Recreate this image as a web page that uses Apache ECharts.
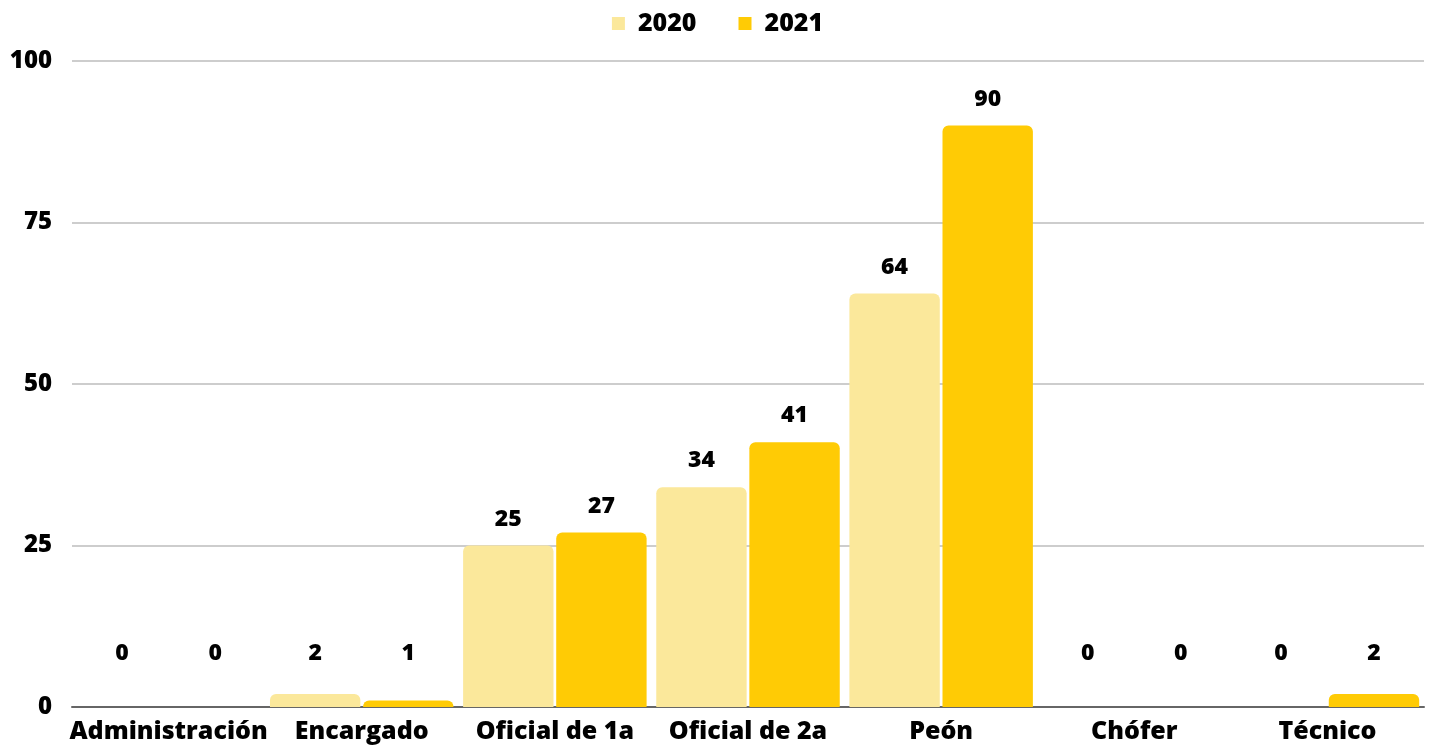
<!DOCTYPE html>
<html>
<head>
<meta charset="utf-8">
<script src="https://cdn.jsdelivr.net/npm/echarts@6/dist/echarts.min.js"></script>
<style>
  html, body { margin: 0; padding: 0; background: #fff; }
  #chart { width: 1435px; height: 752px; }
</style>
</head>
<body>
<div id="chart"></div>
<script>
const categories = ["Administración", "Encargado", "Oficial de 1a", "Oficial de 2a", "Peón", "Chófer", "Técnico"];
const seriesNames = ["2020", "2021"];
const values2020 = [0, 2, 25, 34, 64, 0, 0];
const values2021 = [0, 1, 27, 41, 90, 0, 2];
const yTicks = [0, 25, 50, 75, 100];

const FONT = "'Open Sans', 'Noto Sans', sans-serif";
const colors = ["#FBE89B", "#FFCB05"];

// labels of tiny bars sit at a minimum height, like in the original
const pxPerUnit = (707 - 61) / 100;
function items(vals) {
  return vals.map((v) => ({
    value: v,
    label: { offset: [0, -Math.max(0, 4.2 - v) * pxPerUnit] },
  }));
}

const labelStyle = {
  show: true,
  position: "top",
  distance: 15,
  fontFamily: FONT,
  fontWeight: 800,
  fontSize: 23,
  color: "#000",
};

const chart = echarts.init(document.getElementById("chart"));
chart.setOption({
  animation: false,
  textStyle: { fontFamily: FONT },
  legend: {
    top: 6,
    left: "center",
    itemWidth: 13,
    itemHeight: 13,
    itemGap: 42,
    icon: "rect",
    textStyle: {
      fontFamily: FONT,
      fontWeight: 800,
      fontSize: 25,
      color: "#000",
      padding: [0, 0, 0, 8],
    },
    data: seriesNames,
  },
  grid: { left: 72, right: 11, top: 61, bottom: 45, containLabel: false },
  xAxis: {
    type: "category",
    data: categories,
    axisTick: { show: false },
    axisLine: { lineStyle: { color: "#666", width: 2 } },
    axisLabel: {
      fontFamily: FONT,
      fontWeight: 800,
      fontSize: 25,
      color: "#000",
      margin: 12,
      interval: 0,
    },
  },
  yAxis: {
    type: "value",
    min: yTicks[0],
    max: yTicks[yTicks.length - 1],
    interval: 25,
    axisLine: { show: false },
    axisTick: { show: false },
    splitLine: { lineStyle: { color: "#bdbdbd", width: 1.5 } },
    axisLabel: {
      fontFamily: FONT,
      fontWeight: 800,
      fontSize: 24,
      color: "#000",
      margin: 20,
    },
  },
  series: [
    {
      name: seriesNames[0],
      type: "bar",
      data: items(values2020),
      barCategoryGap: "5%",
      barGap: "3%",
      itemStyle: { color: colors[0], borderRadius: [6, 6, 0, 0] },
      label: labelStyle,
    },
    {
      name: seriesNames[1],
      type: "bar",
      data: items(values2021),
      barCategoryGap: "5%",
      barGap: "3%",
      itemStyle: { color: colors[1], borderRadius: [6, 6, 0, 0] },
      label: labelStyle,
    },
  ],
});
</script>
</body>
</html>
